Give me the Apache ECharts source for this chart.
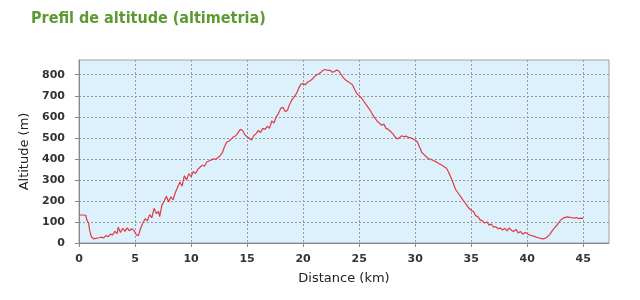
<!DOCTYPE html>
<html>
<head>
<meta charset="utf-8">
<script src="https://cdn.jsdelivr.net/npm/echarts@6/dist/echarts.min.js"></script>
<style>
html,body{margin:0;padding:0;background:#fff;}
#c{width:640px;height:300px;}
</style>
</head>
<body>
<div id="c"></div>
<script>
var titleText = 'Prefil de altitude (altimetria)';
var xName = 'Distance (km)';
var yName = 'Altitude (m)';
var xTicks = [0, 5, 10, 15, 20, 25, 30, 35, 40, 45];
var yTicks = [0, 100, 200, 300, 400, 500, 600, 700, 800];

var distance = [0,0.3,0.6,0.7,0.85,0.95,1.1,1.3,1.5,1.8,2.0,2.2,2.4,2.6,2.8,3.0,3.2,3.4,3.5,3.7,3.9,4.1,4.3,4.5,4.7,4.9,5.1,5.3,5.5,5.7,5.9,6.1,6.3,6.5,6.7,6.9,7.1,7.2,7.4,7.6,7.8,8.0,8.2,8.4,8.6,8.8,9.0,9.2,9.4,9.6,9.8,10.0,10.2,10.4,10.6,10.8,11.0,11.2,11.4,11.6,11.8,12.0,12.2,12.5,12.8,13.0,13.2,13.4,13.6,13.8,14.0,14.2,14.4,14.6,14.8,15.0,15.2,15.4,15.6,15.8,16.0,16.2,16.4,16.6,16.8,17.0,17.2,17.4,17.6,17.8,18.0,18.2,18.4,18.6,18.8,19.0,19.2,19.4,19.6,19.8,20.0,20.2,20.4,20.6,20.8,21.0,21.2,21.4,21.6,21.8,22.0,22.2,22.4,22.6,22.8,23.0,23.2,23.4,23.6,23.8,24.0,24.2,24.4,24.6,24.8,25.0,25.2,25.4,25.6,25.8,26.0,26.2,26.4,26.6,26.8,27.0,27.2,27.4,27.6,27.8,28.0,28.2,28.4,28.6,28.8,29.0,29.2,29.4,29.6,29.8,30.0,30.2,30.4,30.6,30.8,31.0,31.2,31.4,31.6,31.8,32.0,32.2,32.4,32.6,32.8,33.0,33.2,33.4,33.6,33.8,34.0,34.2,34.4,34.6,34.8,35.0,35.2,35.4,35.6,35.8,36.0,36.2,36.4,36.6,36.8,37.0,37.2,37.4,37.6,37.8,38.0,38.2,38.4,38.6,38.8,39.0,39.2,39.4,39.6,39.8,40.0,40.2,40.4,40.6,40.8,41.0,41.2,41.4,41.6,41.8,42.0,42.2,42.4,42.6,42.8,43.0,43.2,43.4,43.6,43.8,44.0,44.2,44.4,44.6,44.8,45.0];
var altitude = [133,133,132,110,95,60,30,20,22,25,28,24,35,30,42,38,55,45,75,50,70,55,72,58,68,60,40,35,70,95,115,105,135,120,165,140,150,125,180,200,222,195,220,205,240,265,290,270,320,300,330,315,340,330,350,360,370,365,385,390,395,400,398,410,430,460,480,485,495,505,510,525,540,535,515,505,498,490,510,520,535,525,545,540,555,545,580,570,600,615,640,645,625,630,660,680,695,710,735,755,758,752,765,770,778,790,800,805,812,822,825,820,822,812,815,822,818,800,785,775,768,760,752,730,710,700,690,675,660,645,630,610,595,580,570,560,565,545,540,530,520,505,495,500,510,505,508,502,500,495,490,480,455,430,420,410,400,398,392,388,382,375,370,362,355,335,310,285,255,240,225,210,195,180,165,155,150,130,125,110,105,95,100,85,90,75,78,68,72,62,70,58,72,60,55,65,48,55,42,50,45,38,35,32,28,25,22,20,22,30,40,55,70,82,95,110,118,122,124,122,120,118,121,116,118,117];

var seriesData = distance.map(function (d, i) { return [d, altitude[i]]; });

var chart = echarts.init(document.getElementById('c'), null, {renderer: 'canvas'});
chart.setOption({
  animation: false,
  backgroundColor: '#ffffff',
  title: {
    text: titleText,
    left: 31,
    top: 11,
    padding: 0,
    textStyle: {color: '#5b9a31', fontSize: 16, fontWeight: 'bold', fontFamily: 'DejaVu Sans Condensed, DejaVu Sans'}
  },
  grid: {
    left: 79, right: 31, top: 60, bottom: 57,
    show: true,
    backgroundColor: '#dcf1fb',
    borderColor: '#a0a0a0',
    borderWidth: 1
  },
  xAxis: {
    type: 'value',
    min: 0,
    max: 47.3,
    interval: 5,
    offset: 6,
    name: xName,
    nameLocation: 'middle',
    nameGap: 23,
    nameTextStyle: {fontSize: 13, color: '#222', fontFamily: 'DejaVu Sans'},
    axisLine: {show: true, lineStyle: {color: '#888'}},
    axisTick: {show: true, length: 4, lineStyle: {color: '#888'}, customValues: xTicks},
    axisLabel: {fontSize: 11, fontWeight: 'bold', color: '#333', fontFamily: 'DejaVu Sans', margin: 5, customValues: xTicks},
    splitLine: {show: true, lineStyle: {color: '#999', type: [2, 2], width: 1}}
  },
  yAxis: {
    type: 'value',
    min: 0,
    max: 870,
    interval: 100,
    offset: 8,
    name: yName,
    nameLocation: 'middle',
    nameGap: 36,
    nameRotate: 90,
    nameTextStyle: {fontSize: 13, color: '#222', fontFamily: 'DejaVu Sans'},
    axisLine: {show: true, lineStyle: {color: '#888'}},
    axisTick: {show: true, length: 4, lineStyle: {color: '#888'}, customValues: yTicks},
    axisLabel: {fontSize: 11, fontWeight: 'bold', color: '#333', fontFamily: 'DejaVu Sans', margin: 6, customValues: yTicks},
    splitLine: {show: true, lineStyle: {color: '#999', type: [2, 2], width: 1}}
  },
  series: [{
    type: 'line',
    data: seriesData,
    showSymbol: false,
    symbol: 'none',
    lineStyle: {color: '#e23a46', width: 1.2},
    z: 3
  }]
});
</script>
</body>
</html>
